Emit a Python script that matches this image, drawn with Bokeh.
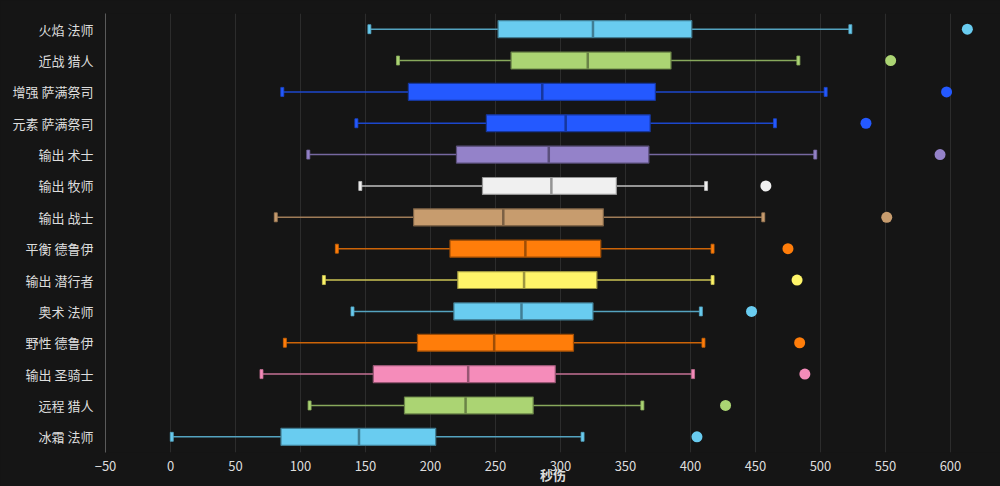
from bokeh.plotting import figure
from bokeh.models import ColumnDataSource, FactorRange, Range1d, FixedTicker
from bokeh.embed import file_html
from bokeh.resources import INLINE

categories = ["火焰 法师", "近战 猎人", "增强 萨满祭司", "元素 萨满祭司", "输出 术士", "输出 牧师",
              "输出 战士", "平衡 德鲁伊", "输出 潜行者", "奥术 法师", "野性 德鲁伊", "输出 圣骑士",
              "远程 猎人", "冰霜 法师"]
w_min = [153, 175, 86, 143, 106, 146, 81, 128, 118, 140, 88, 70, 107, 1]
q1 = [252, 262, 183, 243, 220, 240, 187, 215, 221, 218, 190, 156, 180, 85]
median = [325, 321, 286, 304, 291, 293, 256, 273, 272, 270, 249, 229, 227, 145]
q3 = [401, 385, 373, 369, 368, 343, 333, 331, 328, 325, 310, 296, 279, 204]
w_max = [523, 483, 504, 465, 496, 412, 456, 417, 417, 408, 410, 402, 363, 317]
outlier = [613, 554, 597, 535, 592, 458, 551, 475, 482, 447, 484, 488, 427, 405]
colors = ["#69CCF0", "#ABD473", "#2459FF", "#2459FF", "#9482C9", "#F0F0F0", "#C79C6E",
          "#FF7D0A", "#FFF569", "#69CCF0", "#FF7D0A", "#F58CBA", "#ABD473", "#69CCF0"]
x_ticks = [-50, 0, 50, 100, 150, 200, 250, 300, 350, 400, 450, 500, 550, 600]
x_title = "秒伤"


def shade(c, f):
    r, g, b = int(c[1:3], 16), int(c[3:5], 16), int(c[5:7], 16)
    return "#%02x%02x%02x" % (int(r * f), int(g * f), int(b * f))


src = ColumnDataSource(dict(
    cat=categories, lo=w_min, q1=q1, med=median, q3=q3, hi=w_max, out=outlier,
    color=colors,
    edge=[shade(c, 0.62) for c in colors],
    whisk=[shade(c, 0.8) for c in colors],
))

BG = "#151515"
p = figure(width=1000, height=486, y_range=FactorRange(*reversed(categories)),
           x_range=Range1d(-50, 638.5), output_backend="svg", toolbar_location=None,
           background_fill_color=BG, border_fill_color=BG,
           min_border_left=105, min_border_right=0, min_border_top=13, min_border_bottom=33)
p.outline_line_color = None

p.segment(x0="lo", x1="hi", y0="cat", y1="cat", source=src, line_color="whisk", line_width=1.5)
p.rect(x="lo", y="cat", width=3, height=9, width_units="screen", height_units="screen",
       source=src, fill_color="color", line_color="whisk", line_width=0.8)
p.rect(x="hi", y="cat", width=3, height=9, width_units="screen", height_units="screen",
       source=src, fill_color="color", line_color="whisk", line_width=0.8)
p.hbar(y="cat", left="q1", right="q3", height=0.54, source=src,
       fill_color="color", line_color="edge", line_width=1.2)
p.rect(x="med", y="cat", width=2.5, height=0.52, width_units="screen",
       source=src, fill_color="edge", line_color=None)
p.scatter(x="out", y="cat", size=11, source=src, fill_color="color", line_color=None)

p.xgrid.grid_line_color = "#2c2c2c"
p.xgrid.grid_line_width = 1
p.ygrid.grid_line_color = None
p.xaxis.ticker = FixedTicker(ticks=x_ticks)
p.xaxis.axis_line_color = None
p.xaxis.major_tick_line_color = None
p.xaxis.minor_tick_line_color = None
p.xaxis.major_label_standoff = 2
p.xaxis.axis_label = x_title
p.xaxis.axis_label_text_color = "#dddddd"
p.xaxis.axis_label_text_font = "Noto Sans CJK SC"
p.xaxis.axis_label_text_font_size = "13px"
p.xaxis.axis_label_text_font_style = "bold"
p.xaxis.axis_label_standoff = -9
p.yaxis.axis_line_color = "#5a5a5a"
p.yaxis.major_tick_line_color = None
p.yaxis.minor_tick_line_color = None
p.yaxis.major_label_standoff = 6
for ax in (p.xaxis, p.yaxis):
    ax.major_label_text_color = "#dddddd"
    ax.major_label_text_font = "Noto Sans CJK SC"
    ax.major_label_text_font_size = "13px"

html = file_html(p, INLINE)
html = html.replace("<head>", "<head><style>body{background:#151515;}</style>", 1)
open("out.html", "w").write(html)
